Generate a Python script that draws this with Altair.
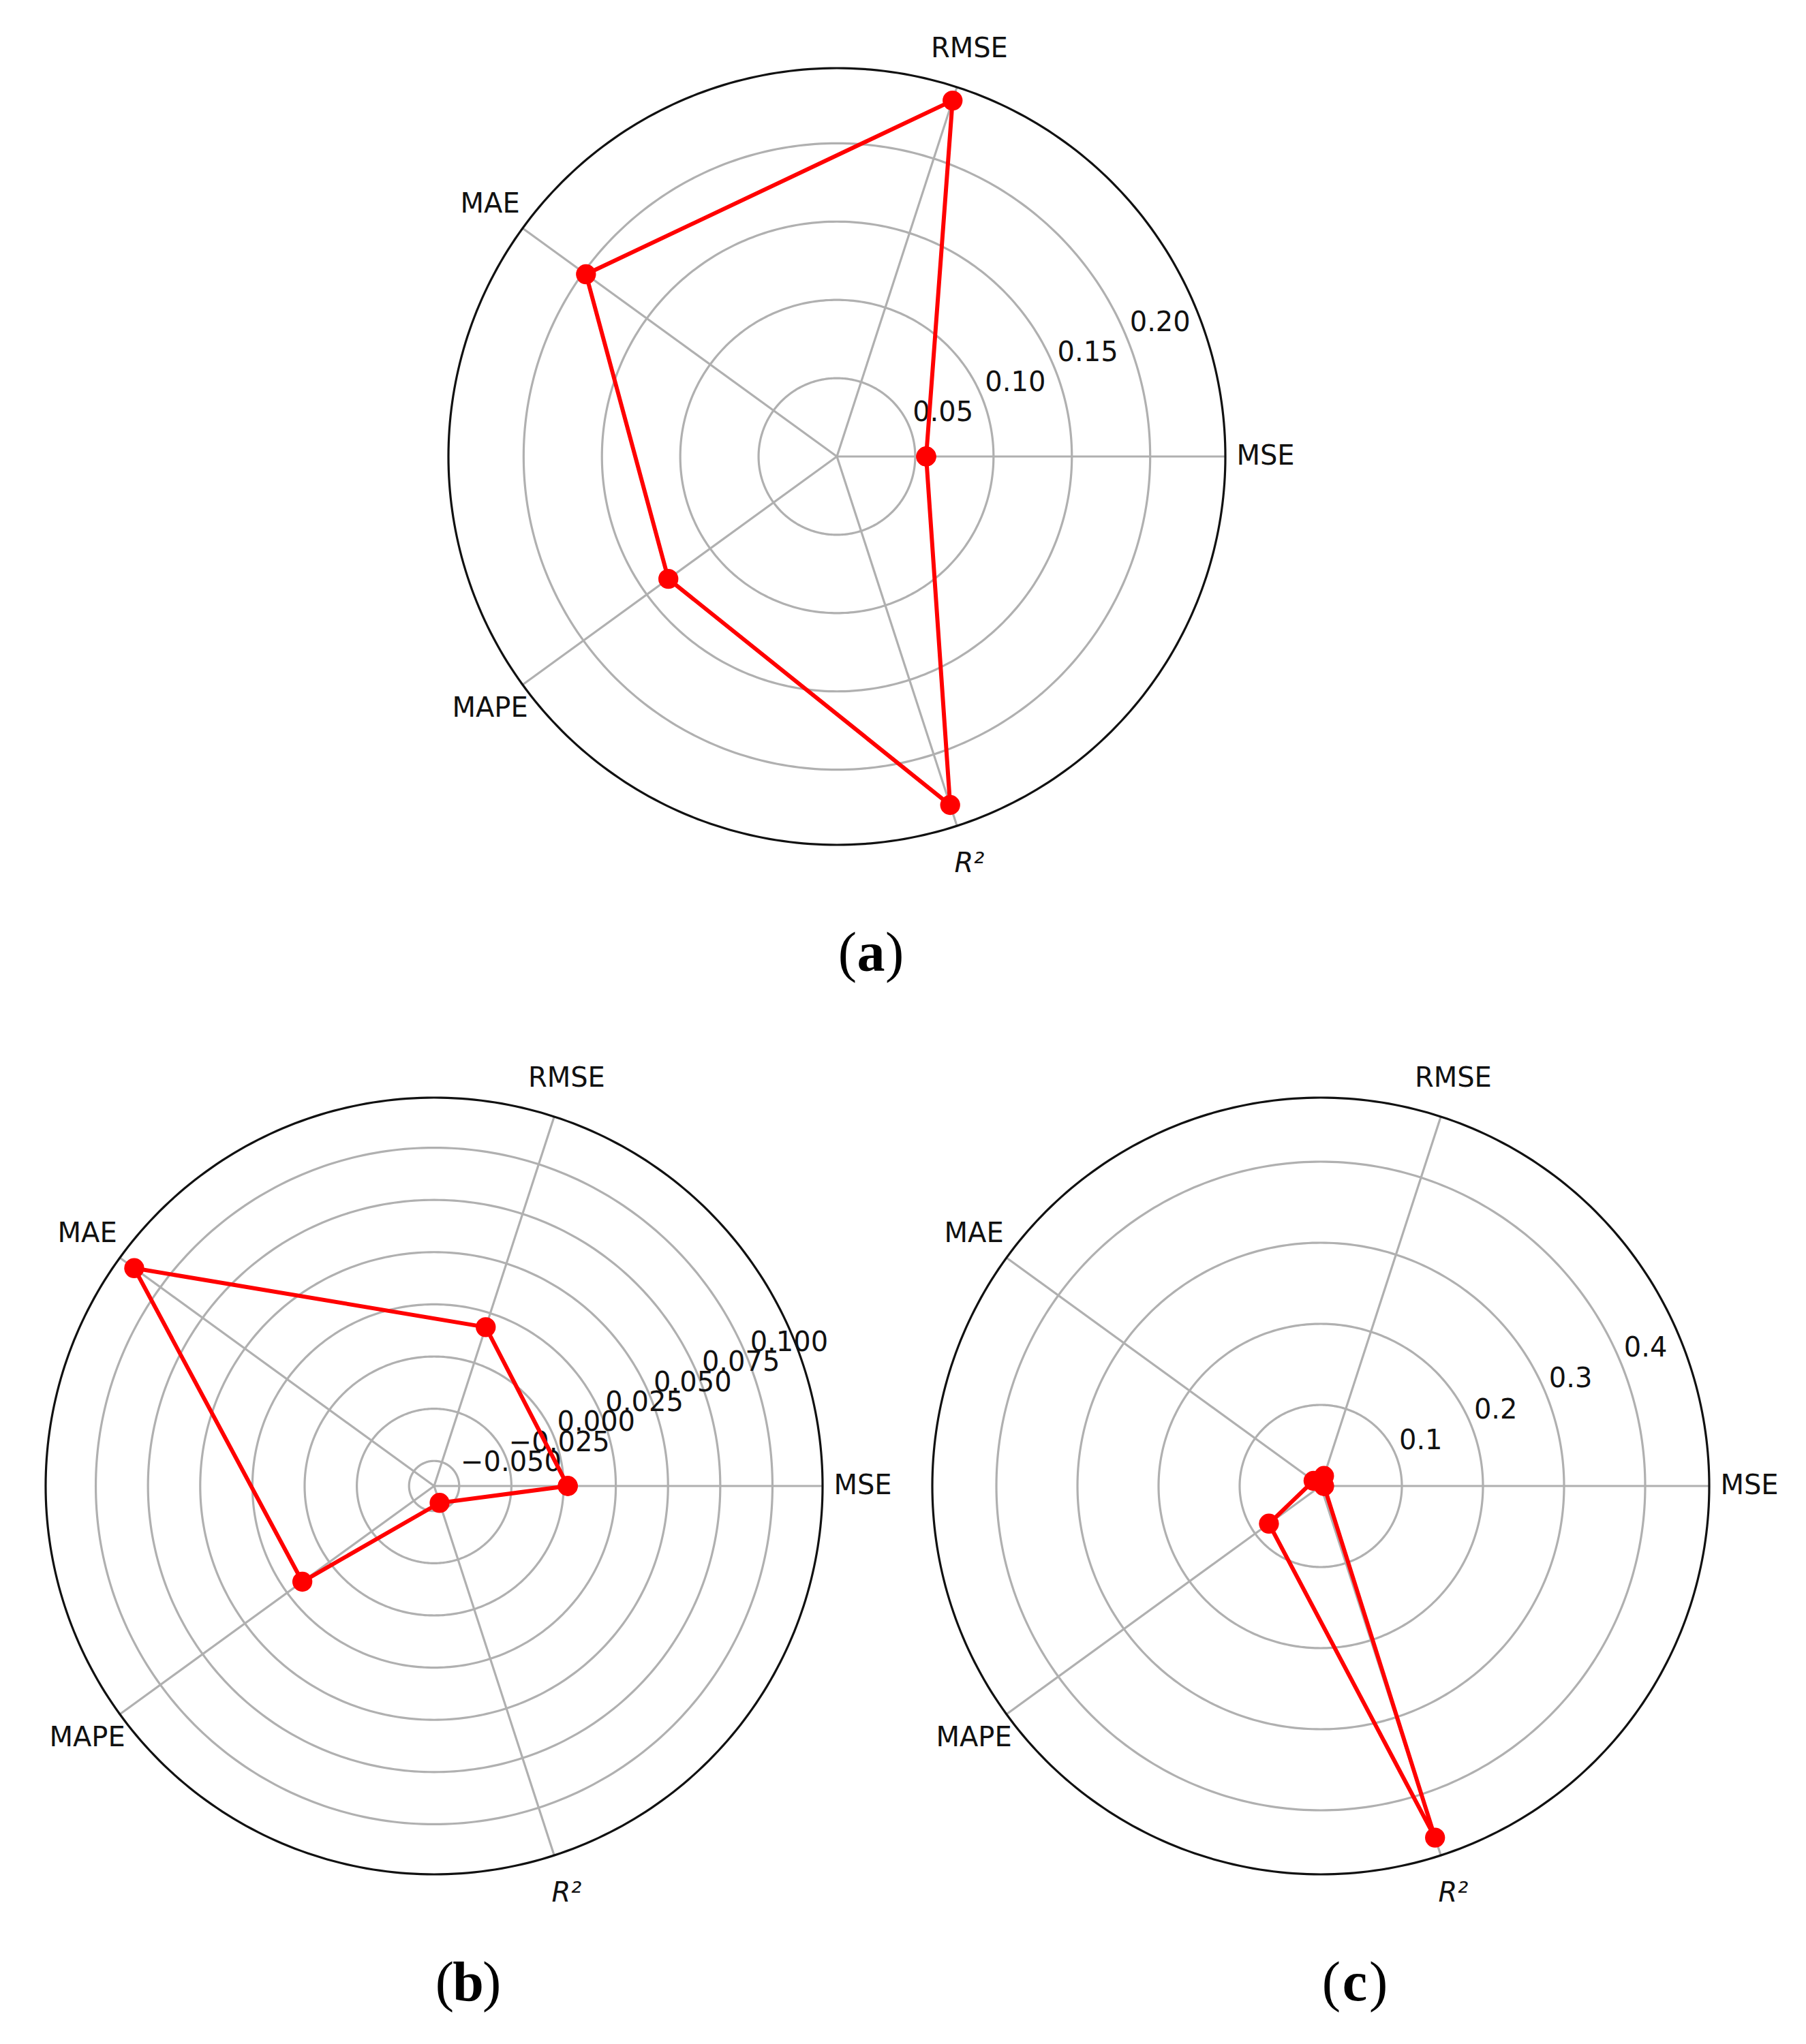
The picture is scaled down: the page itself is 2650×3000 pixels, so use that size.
import altair as alt
import pandas as pd

# ---------------- data ----------------
METRICS = ["MSE", "RMSE", "MAE", "MAPE", "R²"]

VALUES_A = [0.057, 0.239, 0.198, 0.133, 0.234]
VALUES_B = [0.002, 0.018, 0.1155, 0.016, -0.0535]
VALUES_C = [0.004, 0.013, 0.011, 0.079, 0.456]

TICKS_A = [0.05, 0.10, 0.15, 0.20]
TICK_LABELS_A = ["0.05", "0.10", "0.15", "0.20"]
TICKS_B = [-0.050, -0.025, 0.000, 0.025, 0.050, 0.075, 0.100]
TICK_LABELS_B = ["−0.050", "−0.025", "0.000", "0.025", "0.050", "0.075", "0.100"]
TICKS_C = [0.1, 0.2, 0.3, 0.4]
TICK_LABELS_C = ["0.1", "0.2", "0.3", "0.4"]

LIMITS_A = (0.0, 0.248)
LIMITS_B = (-0.062, 0.124)
LIMITS_C = (0.0, 0.479)

CAPTIONS = ["a", "b", "c"]

# ---------------- layout ----------------
R = 570  # polar radius in px
CENTERS = {"a": (1220, 662), "b": (629, 2173), "c": (1930, 2173)}
CAPTION_DX = 50
CAPTION_DY = 755
LABEL_FACTOR = 629 / 570
GRID = "#b0b0b0"
RED = "#ff0000"
FONT = "DejaVu Sans"


def panel(key, values, ticks, tick_labels, limits):
    rmin, rmax = limits
    span = rmax - rmin
    cx, cy = CENTERS[key]
    xs = alt.Scale(domain=[-span, span], range=[cx - R, cx + R], nice=False, zero=False)
    ys = alt.Scale(domain=[-span, span], range=[cy + R, cy - R], nice=False, zero=False)

    def X(f):
        return alt.X(f, type="quantitative", scale=xs, axis=None)

    def Y(f):
        return alt.Y(f, type="quantitative", scale=ys, axis=None)

    layers = []

    # grid rings (circles traced through the x/y scales)
    ring_df = pd.DataFrame({"tick": ticks})
    rings = (
        alt.Chart(ring_df)
        .transform_calculate(t="sequence(0, 361, 1)")
        .transform_flatten(["t"])
        .transform_calculate(
            rx=f"(datum.tick - ({rmin})) * cos(datum.t * PI / 180)",
            ry=f"(datum.tick - ({rmin})) * sin(datum.t * PI / 180)",
        )
        .mark_line(color=GRID, strokeWidth=3.2)
        .encode(x=X("rx"), y=Y("ry"), detail="tick:N", order="t:Q")
    )
    layers.append(rings)

    # spokes
    spoke_df = pd.DataFrame({"metric": METRICS, "idx": list(range(len(METRICS)))})
    spokes = (
        alt.Chart(spoke_df)
        .transform_calculate(
            ang="datum.idx * 2 * PI / 5",
            ex=f"{span} * cos(datum.ang)",
            ey=f"{span} * sin(datum.ang)",
            z="0",
        )
        .mark_rule(color=GRID, strokeWidth=3.2)
        .encode(x=X("z"), y=Y("z"), x2="ex:Q", y2="ey:Q")
    )
    layers.append(spokes)

    # radial tick labels at 22.5 deg
    tick_df = pd.DataFrame({"tick": ticks, "label": tick_labels})
    tlabels = (
        alt.Chart(tick_df)
        .transform_calculate(
            tx=f"(datum.tick - ({rmin})) * cos(PI / 8)",
            ty=f"(datum.tick - ({rmin})) * sin(PI / 8)",
        )
        .mark_text(align="left", baseline="bottom", dx=5, dy=0, fontSize=40, font=FONT, color="#111")
        .encode(x=X("tx"), y=Y("ty"), text="label:N")
    )
    layers.append(tlabels)

    # outer circle
    outer_df = pd.DataFrame({"edge": [rmax]})
    outer = (
        alt.Chart(outer_df)
        .transform_calculate(t="sequence(0, 361, 1)")
        .transform_flatten(["t"])
        .transform_calculate(
            rx=f"(datum.edge - ({rmin})) * cos(datum.t * PI / 180)",
            ry=f"(datum.edge - ({rmin})) * sin(datum.t * PI / 180)",
        )
        .mark_line(color="#111", strokeWidth=3.2)
        .encode(x=X("rx"), y=Y("ry"), order="t:Q")
    )
    layers.append(outer)

    # data polygon
    n = len(METRICS)
    poly_df = pd.DataFrame(
        {
            "metric": [METRICS[i % n] for i in range(n + 1)],
            "value": [values[i % n] for i in range(n + 1)],
            "idx": list(range(n + 1)),
        }
    )
    base = alt.Chart(poly_df).transform_calculate(
        ang="datum.idx * 2 * PI / 5",
        px=f"(datum.value - ({rmin})) * cos(datum.ang)",
        py=f"(datum.value - ({rmin})) * sin(datum.ang)",
    )
    line = base.mark_line(color=RED, strokeWidth=6).encode(x=X("px"), y=Y("py"), order="idx:Q")
    pts = base.mark_circle(color=RED, size=860, opacity=1).encode(x=X("px"), y=Y("py"))
    layers += [line, pts]

    # category labels
    lab = alt.Chart(spoke_df).transform_calculate(
        ang="datum.idx * 2 * PI / 5",
        lx=f"{span * LABEL_FACTOR} * cos(datum.ang)",
        ly=f"{span * LABEL_FACTOR} * sin(datum.ang)",
    )
    lab_normal = (
        lab.transform_filter("datum.idx < 4")
        .mark_text(align="center", baseline="middle", fontSize=40, font=FONT, color="#111")
        .encode(x=X("lx"), y=Y("ly"), text="metric:N")
    )
    lab_italic = (
        lab.transform_filter("datum.idx == 4")
        .mark_text(align="center", baseline="middle", fontSize=40, font=FONT, fontStyle="italic", color="#111")
        .encode(x=X("lx"), y=Y("ly"), text="metric:N")
    )
    layers += [lab_normal, lab_italic]

    # caption  (a) / (b) / (c)
    cap_df = pd.DataFrame({"cap": [key]})
    capx = cx + CAPTION_DX
    capy = cy + CAPTION_DY
    cap_font = "Liberation Serif"
    cap_size = 82
    letter = (
        alt.Chart(cap_df)
        .mark_text(align="center", baseline="alphabetic", fontSize=cap_size, font=cap_font, fontWeight="bold", color="black")
        .encode(x=alt.value(capx), y=alt.value(capy), text="cap:N")
    )
    lpar = (
        alt.Chart(cap_df)
        .transform_calculate(p="'('")
        .mark_text(align="right", baseline="alphabetic", fontSize=cap_size, font=cap_font, color="black")
        .encode(x=alt.value(capx - 21), y=alt.value(capy), text="p:N")
    )
    rpar = (
        alt.Chart(cap_df)
        .transform_calculate(p="')'")
        .mark_text(align="left", baseline="alphabetic", fontSize=cap_size, font=cap_font, color="black")
        .encode(x=alt.value(capx + 21), y=alt.value(capy), text="p:N")
    )
    layers += [letter, lpar, rpar]
    return layers


all_layers = []
all_layers += panel("a", VALUES_A, TICKS_A, TICK_LABELS_A, LIMITS_A)
all_layers += panel("b", VALUES_B, TICKS_B, TICK_LABELS_B, LIMITS_B)
all_layers += panel("c", VALUES_C, TICKS_C, TICK_LABELS_C, LIMITS_C)

chart = (
    alt.layer(*all_layers)
    .resolve_scale(x="independent", y="independent")
    .properties(width=2634, height=2984, padding=0, autosize="none", background="white")
    .configure_view(stroke=None)
)

chart.save("out.html", embed_options={"renderer": "svg", "actions": False})
